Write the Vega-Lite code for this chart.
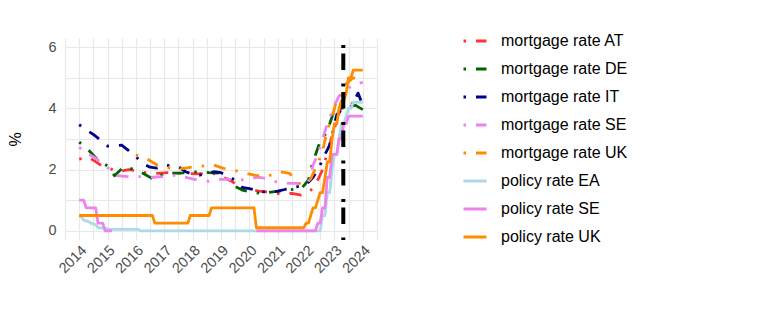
{
  "$schema": "https://vega.github.io/schema/vega-lite/v6.json",
  "width": 312,
  "height": 202,
  "autosize": {"type": "none"},
  "padding": {"left": 65, "top": 38, "right": 385, "bottom": 76},
  "background": "white",
  "config": {
    "view": {"stroke": null},
    "font": "Liberation Sans",
    "axis": {"gridColor": "#e8e8e8", "gridWidth": 1.2, "ticks": false, "tickSize": 0, "domain": false, "labelColor": "#4d4d4d", "labelFontSize": 14.5, "labelFont": "Liberation Sans"},
    "legend": {"orient": "none", "legendX": 397, "legendY": -10, "padding": 0, "labelFontSize": 16, "labelFont": "Liberation Sans", "labelColor": "black", "symbolSize": 529, "symbolStrokeWidth": 3, "symbolType": "stroke", "labelOffset": 13, "rowPadding": 7, "labelLimit": 300}
  },
  "datasets": {
    "rates": [
      {"s":"mortgage rate AT","g":"a","d":"2014-01","v":2.34},
      {"s":"mortgage rate AT","g":"a","d":"2014-05","v":2.4},
      {"s":"mortgage rate AT","g":"a","d":"2014-08","v":2.26},
      {"s":"mortgage rate AT","g":"a","d":"2014-11","v":2.1},
      {"s":"mortgage rate AT","g":"a","d":"2015-02","v":2.04},
      {"s":"mortgage rate AT","g":"a","d":"2015-05","v":1.93},
      {"s":"mortgage rate AT","g":"a","d":"2015-10","v":2.0},
      {"s":"mortgage rate AT","g":"a","d":"2016-01","v":1.97},
      {"s":"mortgage rate AT","g":"a","d":"2016-05","v":1.9},
      {"s":"mortgage rate AT","g":"a","d":"2016-10","v":1.88},
      {"s":"mortgage rate AT","g":"a","d":"2017-03","v":1.9},
      {"s":"mortgage rate AT","g":"a","d":"2017-08","v":1.88},
      {"s":"mortgage rate AT","g":"a","d":"2017-12","v":1.87},
      {"s":"mortgage rate AT","g":"a","d":"2018-03","v":1.86},
      {"s":"mortgage rate AT","g":"a","d":"2018-08","v":1.88},
      {"s":"mortgage rate AT","g":"a","d":"2018-12","v":1.85},
      {"s":"mortgage rate AT","g":"a","d":"2019-03","v":1.71},
      {"s":"mortgage rate AT","g":"a","d":"2019-06","v":1.6},
      {"s":"mortgage rate AT","g":"a","d":"2019-09","v":1.4},
      {"s":"mortgage rate AT","g":"a","d":"2020-01","v":1.35},
      {"s":"mortgage rate AT","g":"a","d":"2020-05","v":1.3},
      {"s":"mortgage rate AT","g":"a","d":"2020-09","v":1.27},
      {"s":"mortgage rate AT","g":"a","d":"2021-01","v":1.22},
      {"s":"mortgage rate AT","g":"a","d":"2021-07","v":1.22},
      {"s":"mortgage rate AT","g":"a","d":"2021-11","v":1.17},
      {"s":"mortgage rate AT","g":"a","d":"2022-02","v":1.25},
      {"s":"mortgage rate AT","g":"a","d":"2022-04","v":1.4},
      {"s":"mortgage rate AT","g":"a","d":"2022-06","v":1.66},
      {"s":"mortgage rate AT","g":"a","d":"2022-08","v":2.0},
      {"s":"mortgage rate AT","g":"a","d":"2022-10","v":2.55},
      {"s":"mortgage rate AT","g":"a","d":"2022-12","v":3.1},
      {"s":"mortgage rate AT","g":"a","d":"2023-02","v":3.6},
      {"s":"mortgage rate AT","g":"a","d":"2023-04","v":4.1},
      {"s":"mortgage rate AT","g":"a","d":"2023-06","v":4.25},
      {"s":"mortgage rate AT","g":"a","d":"2023-09","v":4.15},
      {"s":"mortgage rate AT","g":"a","d":"2024-01","v":4.05},

      {"s":"mortgage rate DE","g":"a","d":"2014-01","v":2.9},
      {"s":"mortgage rate DE","g":"a","d":"2014-05","v":2.64},
      {"s":"mortgage rate DE","g":"a","d":"2014-09","v":2.31},
      {"s":"mortgage rate DE","g":"a","d":"2015-01","v":2.12},
      {"s":"mortgage rate DE","g":"a","d":"2015-04","v":1.8},
      {"s":"mortgage rate DE","g":"a","d":"2015-08","v":2.1},
      {"s":"mortgage rate DE","g":"a","d":"2016-01","v":1.99},
      {"s":"mortgage rate DE","g":"a","d":"2016-04","v":1.88},
      {"s":"mortgage rate DE","g":"a","d":"2016-09","v":1.66},
      {"s":"mortgage rate DE","g":"a","d":"2017-01","v":1.88},
      {"s":"mortgage rate DE","g":"a","d":"2017-04","v":1.88},
      {"s":"mortgage rate DE","g":"a","d":"2017-09","v":1.89},
      {"s":"mortgage rate DE","g":"a","d":"2018-04","v":1.93},
      {"s":"mortgage rate DE","g":"a","d":"2018-08","v":1.9},
      {"s":"mortgage rate DE","g":"a","d":"2019-01","v":1.88},
      {"s":"mortgage rate DE","g":"a","d":"2019-03","v":1.77},
      {"s":"mortgage rate DE","g":"a","d":"2019-06","v":1.49},
      {"s":"mortgage rate DE","g":"a","d":"2019-10","v":1.33},
      {"s":"mortgage rate DE","g":"a","d":"2020-02","v":1.27},
      {"s":"mortgage rate DE","g":"a","d":"2020-06","v":1.22},
      {"s":"mortgage rate DE","g":"a","d":"2020-11","v":1.27},
      {"s":"mortgage rate DE","g":"a","d":"2021-05","v":1.33},
      {"s":"mortgage rate DE","g":"a","d":"2021-11","v":1.38},
      {"s":"mortgage rate DE","g":"a","d":"2022-02","v":1.66},
      {"s":"mortgage rate DE","g":"a","d":"2022-03","v":2.0},
      {"s":"mortgage rate DE","g":"a","d":"2022-05","v":2.48},
      {"s":"mortgage rate DE","g":"a","d":"2022-07","v":2.92},
      {"s":"mortgage rate DE","g":"a","d":"2022-09","v":3.14},
      {"s":"mortgage rate DE","g":"a","d":"2022-11","v":3.5},
      {"s":"mortgage rate DE","g":"a","d":"2023-01","v":3.95},
      {"s":"mortgage rate DE","g":"a","d":"2023-04","v":4.0},
      {"s":"mortgage rate DE","g":"a","d":"2023-07","v":4.05},
      {"s":"mortgage rate DE","g":"a","d":"2023-10","v":4.1},
      {"s":"mortgage rate DE","g":"a","d":"2024-01","v":3.96},

      {"s":"mortgage rate IT","g":"a","d":"2014-01","v":3.47},
      {"s":"mortgage rate IT","g":"a","d":"2014-04","v":3.3},
      {"s":"mortgage rate IT","g":"a","d":"2014-07","v":3.15},
      {"s":"mortgage rate IT","g":"a","d":"2014-10","v":2.97},
      {"s":"mortgage rate IT","g":"a","d":"2015-01","v":2.77},
      {"s":"mortgage rate IT","g":"a","d":"2015-04","v":2.78},
      {"s":"mortgage rate IT","g":"a","d":"2015-07","v":2.8},
      {"s":"mortgage rate IT","g":"a","d":"2015-10","v":2.62},
      {"s":"mortgage rate IT","g":"a","d":"2016-01","v":2.42},
      {"s":"mortgage rate IT","g":"a","d":"2016-04","v":2.2},
      {"s":"mortgage rate IT","g":"a","d":"2016-07","v":2.08},
      {"s":"mortgage rate IT","g":"a","d":"2016-10","v":2.05},
      {"s":"mortgage rate IT","g":"a","d":"2017-01","v":2.15},
      {"s":"mortgage rate IT","g":"a","d":"2017-04","v":2.12},
      {"s":"mortgage rate IT","g":"a","d":"2017-07","v":2.1},
      {"s":"mortgage rate IT","g":"a","d":"2017-10","v":1.93},
      {"s":"mortgage rate IT","g":"a","d":"2018-01","v":1.85},
      {"s":"mortgage rate IT","g":"a","d":"2018-04","v":1.82},
      {"s":"mortgage rate IT","g":"a","d":"2018-07","v":1.88},
      {"s":"mortgage rate IT","g":"a","d":"2018-10","v":1.93},
      {"s":"mortgage rate IT","g":"a","d":"2019-01","v":1.9},
      {"s":"mortgage rate IT","g":"a","d":"2019-04","v":1.8},
      {"s":"mortgage rate IT","g":"a","d":"2019-07","v":1.65},
      {"s":"mortgage rate IT","g":"a","d":"2019-10","v":1.42},
      {"s":"mortgage rate IT","g":"a","d":"2020-01","v":1.38},
      {"s":"mortgage rate IT","g":"a","d":"2020-04","v":1.33},
      {"s":"mortgage rate IT","g":"a","d":"2020-07","v":1.27},
      {"s":"mortgage rate IT","g":"a","d":"2020-10","v":1.28},
      {"s":"mortgage rate IT","g":"a","d":"2021-01","v":1.3},
      {"s":"mortgage rate IT","g":"a","d":"2021-04","v":1.35},
      {"s":"mortgage rate IT","g":"a","d":"2021-07","v":1.42},
      {"s":"mortgage rate IT","g":"a","d":"2021-10","v":1.45},
      {"s":"mortgage rate IT","g":"a","d":"2022-01","v":1.5},
      {"s":"mortgage rate IT","g":"a","d":"2022-04","v":1.75},
      {"s":"mortgage rate IT","g":"a","d":"2022-06","v":2.0},
      {"s":"mortgage rate IT","g":"a","d":"2022-07","v":2.15},
      {"s":"mortgage rate IT","g":"a","d":"2022-09","v":2.5},
      {"s":"mortgage rate IT","g":"a","d":"2022-11","v":2.8},
      {"s":"mortgage rate IT","g":"a","d":"2022-12","v":3.1},
      {"s":"mortgage rate IT","g":"a","d":"2023-01","v":3.5},
      {"s":"mortgage rate IT","g":"a","d":"2023-02","v":3.8},
      {"s":"mortgage rate IT","g":"a","d":"2023-04","v":3.95},
      {"s":"mortgage rate IT","g":"a","d":"2023-06","v":4.0},
      {"s":"mortgage rate IT","g":"a","d":"2023-08","v":4.05},
      {"s":"mortgage rate IT","g":"a","d":"2023-09","v":4.2},
      {"s":"mortgage rate IT","g":"a","d":"2023-11","v":4.5},
      {"s":"mortgage rate IT","g":"a","d":"2024-01","v":4.1},

      {"s":"mortgage rate SE","g":"a","d":"2014-01","v":2.73},
      {"s":"mortgage rate SE","g":"a","d":"2014-04","v":2.55},
      {"s":"mortgage rate SE","g":"a","d":"2014-08","v":2.37},
      {"s":"mortgage rate SE","g":"a","d":"2014-11","v":2.2},
      {"s":"mortgage rate SE","g":"a","d":"2015-02","v":2.0},
      {"s":"mortgage rate SE","g":"a","d":"2015-05","v":1.8},
      {"s":"mortgage rate SE","g":"a","d":"2015-10","v":1.77},
      {"s":"mortgage rate SE","g":"a","d":"2016-03","v":1.77},
      {"s":"mortgage rate SE","g":"a","d":"2016-08","v":1.75},
      {"s":"mortgage rate SE","g":"a","d":"2017-01","v":1.77},
      {"s":"mortgage rate SE","g":"a","d":"2017-06","v":1.82},
      {"s":"mortgage rate SE","g":"a","d":"2017-11","v":1.73},
      {"s":"mortgage rate SE","g":"a","d":"2018-03","v":1.66},
      {"s":"mortgage rate SE","g":"a","d":"2018-08","v":1.62},
      {"s":"mortgage rate SE","g":"a","d":"2019-01","v":1.68},
      {"s":"mortgage rate SE","g":"a","d":"2019-06","v":1.68},
      {"s":"mortgage rate SE","g":"a","d":"2019-12","v":1.66},
      {"s":"mortgage rate SE","g":"a","d":"2020-04","v":1.75},
      {"s":"mortgage rate SE","g":"a","d":"2020-08","v":1.72},
      {"s":"mortgage rate SE","g":"a","d":"2021-01","v":1.58},
      {"s":"mortgage rate SE","g":"a","d":"2021-06","v":1.55},
      {"s":"mortgage rate SE","g":"a","d":"2021-12","v":1.55},
      {"s":"mortgage rate SE","g":"a","d":"2022-02","v":1.6},
      {"s":"mortgage rate SE","g":"a","d":"2022-04","v":2.15},
      {"s":"mortgage rate SE","g":"a","d":"2022-06","v":2.5},
      {"s":"mortgage rate SE","g":"a","d":"2022-08","v":3.0},
      {"s":"mortgage rate SE","g":"a","d":"2022-10","v":3.5},
      {"s":"mortgage rate SE","g":"a","d":"2023-01","v":4.1},
      {"s":"mortgage rate SE","g":"a","d":"2023-03","v":4.4},
      {"s":"mortgage rate SE","g":"a","d":"2023-06","v":4.6},
      {"s":"mortgage rate SE","g":"a","d":"2023-09","v":4.78},
      {"s":"mortgage rate SE","g":"a","d":"2024-01","v":4.85},

      {"s":"mortgage rate UK","g":"a","d":"2016-01","v":2.48},
      {"s":"mortgage rate UK","g":"a","d":"2016-06","v":2.34},
      {"s":"mortgage rate UK","g":"a","d":"2016-10","v":2.15},
      {"s":"mortgage rate UK","g":"a","d":"2017-02","v":2.08},
      {"s":"mortgage rate UK","g":"a","d":"2017-06","v":2.0},
      {"s":"mortgage rate UK","g":"a","d":"2017-10","v":2.05},
      {"s":"mortgage rate UK","g":"a","d":"2018-02","v":2.1},
      {"s":"mortgage rate UK","g":"a","d":"2018-06","v":2.12},
      {"s":"mortgage rate UK","g":"a","d":"2018-10","v":2.15},
      {"s":"mortgage rate UK","g":"a","d":"2019-02","v":2.04},
      {"s":"mortgage rate UK","g":"a","d":"2019-06","v":1.99},
      {"s":"mortgage rate UK","g":"a","d":"2019-10","v":1.91},
      {"s":"mortgage rate UK","g":"a","d":"2020-03","v":1.82},
      {"s":"mortgage rate UK","g":"a","d":"2020-07","v":1.77},
      {"s":"mortgage rate UK","g":"a","d":"2020-10","v":1.82},
      {"s":"mortgage rate UK","g":"a","d":"2021-02","v":1.93},
      {"s":"mortgage rate UK","g":"a","d":"2021-06","v":1.88},
      {"s":"mortgage rate UK","g":"a","d":"2021-10","v":1.55},
      {"s":"mortgage rate UK","g":"a","d":"2022-01","v":1.55},
      {"s":"mortgage rate UK","g":"a","d":"2022-03","v":1.7},
      {"s":"mortgage rate UK","g":"a","d":"2022-06","v":2.2},
      {"s":"mortgage rate UK","g":"a","d":"2022-08","v":2.6},
      {"s":"mortgage rate UK","g":"a","d":"2022-10","v":3.3},
      {"s":"mortgage rate UK","g":"a","d":"2022-12","v":3.7},
      {"s":"mortgage rate UK","g":"a","d":"2023-02","v":4.3},
      {"s":"mortgage rate UK","g":"a","d":"2023-04","v":4.4},
      {"s":"mortgage rate UK","g":"a","d":"2023-06","v":4.8},
      {"s":"mortgage rate UK","g":"a","d":"2023-09","v":5.0},
      {"s":"mortgage rate UK","g":"a","d":"2024-01","v":4.9},

      {"s":"policy rate EA","g":"a","d":"2014-01","v":0.5},
      {"s":"policy rate EA","g":"a","d":"2014-02","v":0.45},
      {"s":"policy rate EA","g":"a","d":"2014-03","v":0.35},
      {"s":"policy rate EA","g":"a","d":"2014-05","v":0.3},
      {"s":"policy rate EA","g":"a","d":"2014-06","v":0.25},
      {"s":"policy rate EA","g":"a","d":"2014-08","v":0.2},
      {"s":"policy rate EA","g":"a","d":"2014-09","v":0.1},
      {"s":"policy rate EA","g":"a","d":"2014-12","v":0.08},
      {"s":"policy rate EA","g":"a","d":"2015-02","v":0.05},
      {"s":"policy rate EA","g":"a","d":"2016-02","v":0.05},
      {"s":"policy rate EA","g":"a","d":"2016-03","v":0},
      {"s":"policy rate EA","g":"a","d":"2022-07","v":0},
      {"s":"policy rate EA","g":"a","d":"2022-08","v":0.5},
      {"s":"policy rate EA","g":"a","d":"2022-09","v":0.5},
      {"s":"policy rate EA","g":"a","d":"2022-10","v":1.25},
      {"s":"policy rate EA","g":"a","d":"2022-11","v":1.25},
      {"s":"policy rate EA","g":"a","d":"2022-12","v":2.0},
      {"s":"policy rate EA","g":"a","d":"2023-01","v":2.5},
      {"s":"policy rate EA","g":"a","d":"2023-02","v":2.5},
      {"s":"policy rate EA","g":"a","d":"2023-03","v":3.0},
      {"s":"policy rate EA","g":"a","d":"2023-04","v":3.5},
      {"s":"policy rate EA","g":"a","d":"2023-05","v":3.5},
      {"s":"policy rate EA","g":"a","d":"2023-06","v":3.75},
      {"s":"policy rate EA","g":"a","d":"2023-07","v":4.0},
      {"s":"policy rate EA","g":"a","d":"2023-08","v":4.0},
      {"s":"policy rate EA","g":"a","d":"2023-09","v":4.2},
      {"s":"policy rate EA","g":"a","d":"2024-01","v":4.2},

      {"s":"policy rate SE","g":"a","d":"2014-01","v":1.0},
      {"s":"policy rate SE","g":"a","d":"2014-03","v":1.0},
      {"s":"policy rate SE","g":"a","d":"2014-04","v":0.75},
      {"s":"policy rate SE","g":"a","d":"2014-08","v":0.75},
      {"s":"policy rate SE","g":"a","d":"2014-09","v":0.25},
      {"s":"policy rate SE","g":"a","d":"2014-11","v":0.25},
      {"s":"policy rate SE","g":"a","d":"2014-12","v":0},
      {"s":"policy rate SE","g":"a","d":"2015-03","v":0},
      {"s":"policy rate SE","g":"b","d":"2020-04","v":0},
      {"s":"policy rate SE","g":"b","d":"2022-05","v":0},
      {"s":"policy rate SE","g":"b","d":"2022-06","v":0.25},
      {"s":"policy rate SE","g":"b","d":"2022-07","v":0.25},
      {"s":"policy rate SE","g":"b","d":"2022-08","v":0.75},
      {"s":"policy rate SE","g":"b","d":"2022-09","v":0.75},
      {"s":"policy rate SE","g":"b","d":"2022-10","v":1.75},
      {"s":"policy rate SE","g":"b","d":"2022-11","v":1.75},
      {"s":"policy rate SE","g":"b","d":"2022-12","v":2.5},
      {"s":"policy rate SE","g":"b","d":"2023-02","v":2.5},
      {"s":"policy rate SE","g":"b","d":"2023-03","v":3.0},
      {"s":"policy rate SE","g":"b","d":"2023-04","v":3.0},
      {"s":"policy rate SE","g":"b","d":"2023-05","v":3.5},
      {"s":"policy rate SE","g":"b","d":"2023-06","v":3.5},
      {"s":"policy rate SE","g":"b","d":"2023-07","v":3.75},
      {"s":"policy rate SE","g":"b","d":"2024-01","v":3.75},

      {"s":"policy rate UK","g":"a","d":"2014-01","v":0.5},
      {"s":"policy rate UK","g":"a","d":"2016-08","v":0.5},
      {"s":"policy rate UK","g":"a","d":"2016-09","v":0.25},
      {"s":"policy rate UK","g":"a","d":"2017-11","v":0.25},
      {"s":"policy rate UK","g":"a","d":"2017-12","v":0.5},
      {"s":"policy rate UK","g":"a","d":"2018-08","v":0.5},
      {"s":"policy rate UK","g":"a","d":"2018-09","v":0.75},
      {"s":"policy rate UK","g":"a","d":"2020-03","v":0.75},
      {"s":"policy rate UK","g":"a","d":"2020-04","v":0.1},
      {"s":"policy rate UK","g":"a","d":"2021-12","v":0.1},
      {"s":"policy rate UK","g":"a","d":"2022-01","v":0.25},
      {"s":"policy rate UK","g":"a","d":"2022-02","v":0.25},
      {"s":"policy rate UK","g":"a","d":"2022-03","v":0.5},
      {"s":"policy rate UK","g":"a","d":"2022-04","v":0.75},
      {"s":"policy rate UK","g":"a","d":"2022-05","v":0.75},
      {"s":"policy rate UK","g":"a","d":"2022-06","v":1.0},
      {"s":"policy rate UK","g":"a","d":"2022-07","v":1.25},
      {"s":"policy rate UK","g":"a","d":"2022-08","v":1.25},
      {"s":"policy rate UK","g":"a","d":"2022-09","v":1.75},
      {"s":"policy rate UK","g":"a","d":"2022-10","v":2.25},
      {"s":"policy rate UK","g":"a","d":"2022-11","v":2.25},
      {"s":"policy rate UK","g":"a","d":"2022-12","v":3.0},
      {"s":"policy rate UK","g":"a","d":"2023-01","v":3.5},
      {"s":"policy rate UK","g":"a","d":"2023-02","v":3.5},
      {"s":"policy rate UK","g":"a","d":"2023-03","v":4.0},
      {"s":"policy rate UK","g":"a","d":"2023-04","v":4.25},
      {"s":"policy rate UK","g":"a","d":"2023-05","v":4.25},
      {"s":"policy rate UK","g":"a","d":"2023-06","v":4.5},
      {"s":"policy rate UK","g":"a","d":"2023-07","v":5.0},
      {"s":"policy rate UK","g":"a","d":"2023-08","v":5.0},
      {"s":"policy rate UK","g":"a","d":"2023-09","v":5.25},
      {"s":"policy rate UK","g":"a","d":"2024-01","v":5.25}
    ],
    "marker": [{"d": "2023-04-25"}]
  },
  "encoding": {
    "x": {
      "field": "d", "type": "temporal",
      "scale": {"type": "utc", "domain": [1372766400000, 1719878400000]},
      "axis": {
        "title": null,
        "values": [1372766400000, 1388534400000, 1404302400000, 1420070400000, 1435838400000, 1451606400000, 1467417600000, 1483228800000, 1498996800000, 1514764800000, 1530532800000, 1546300800000, 1562068800000, 1577836800000, 1593648000000, 1609459200000, 1625227200000, 1640995200000, 1656763200000, 1672531200000, 1688299200000, 1704067200000, 1719878400000],
        "labelExpr": "utcFormat(datum.value, '%m') == '01' ? utcFormat(datum.value, '%Y') : ''",
        "labelAngle": -45,
        "labelPadding": 3,
        "labelOverlap": false,
        "labelFlush": false,
        "labelBound": false
      }
    }
  },
  "layer": [
    {
      "data": {"name": "rates"},
      "mark": {"type": "line", "strokeWidth": 2.8, "strokeCap": "butt", "strokeJoin": "round"},
      "encoding": {
        "y": {
          "field": "v", "type": "quantitative",
          "scale": {"domain": [-0.3, 6.3], "nice": false, "zero": false},
          "axis": {
            "values": [0, 1, 2, 3, 4, 5, 6],
            "labelExpr": "datum.value % 2 == 0 ? datum.label : ''",
            "labelPadding": 9,
            "title": "%",
            "titleFontSize": 16,
            "titleFontWeight": "normal",
            "titleColor": "black",
            "titleX": -42,
            "titleY": 101,
            "labelFlush": false,
            "labelOverlap": false
          }
        },
        "color": {
          "field": "s", "type": "nominal",
          "scale": {
            "domain": ["mortgage rate AT", "mortgage rate DE", "mortgage rate IT", "mortgage rate SE", "mortgage rate UK", "policy rate EA", "policy rate SE", "policy rate UK"],
            "range": ["#ff3333", "#006400", "#00008b", "#ee82ee", "#ff8c00", "#add8e6", "#ee82ee", "#ff8c00"]
          },
          "legend": {"title": null}
        },
        "strokeDash": {
          "field": "s", "type": "nominal",
          "scale": {
            "domain": ["mortgage rate AT", "mortgage rate DE", "mortgage rate IT", "mortgage rate SE", "mortgage rate UK", "policy rate EA", "policy rate SE", "policy rate UK"],
            "range": [[2.5, 10, 12, 10], [2.5, 10, 12, 10], [2.5, 10, 12, 10], [2.5, 10, 12, 10], [2.5, 10, 12, 10], [1, 0], [1, 0], [1, 0]]
          },
          "legend": {"title": null}
        },
        "detail": {"field": "g", "type": "nominal"}
      }
    },
    {
      "data": {"name": "marker"},
      "mark": {"type": "rule", "color": "black", "strokeWidth": 4, "strokeDash": [3, 5.5, 16.5, 13.5], "strokeDashOffset": 31.5, "strokeCap": "butt"},
      "encoding": {}
    }
  ]
}
